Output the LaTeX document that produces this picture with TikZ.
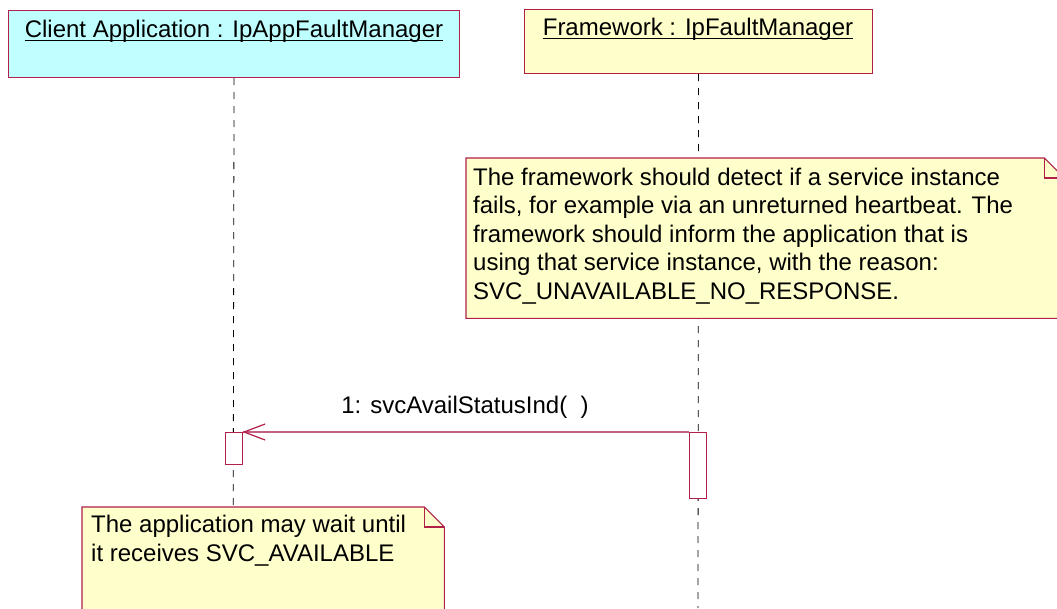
\documentclass[tikz,border=0pt]{standalone}
\usepackage{fontspec}
\setmainfont{Liberation Sans}
\usetikzlibrary{calc}
\definecolor{umlborder}{RGB}{176,32,72}
\definecolor{umlarrow}{RGB}{196,96,130}
\definecolor{cyanfill}{RGB}{192,255,255}
\definecolor{notefill}{RGB}{255,255,204}
\tikzset{
  objbox/.style={draw=umlborder, line width=1.1pt, anchor=north west, inner sep=0pt},
  objlabel/.style={anchor=base, inner sep=0pt, font=\fontsize{24}{28}\selectfont},
  lifeline/.style={draw=black, line width=0.8pt, dash pattern=on 7pt off 7pt},
  actbar/.style={draw=umlborder, fill=white, line width=1.1pt, anchor=north west, inner sep=0pt, minimum width=17pt},
  notearea/.style={anchor=north west, inner sep=0pt},
  noteshape/.style={draw=umlborder, fill=notefill, line width=1.1pt},
  notetext/.style={anchor=base west, inner sep=0pt, align=left, font=\fontsize{24}{28.5}\selectfont},
  msg/.style={draw=umlarrow, line width=1.1pt},
  msghead/.style={draw=umlborder, line width=1.2pt},
  msglabel/.style={anchor=base, inner sep=0pt, font=\fontsize{24}{28}\selectfont},
}
\begin{document}
\begin{tikzpicture}[x=1pt,y=-1pt]
\useasboundingbox (0,0) rectangle (1057,608);
\clip (0,0) rectangle (1057,608);
% object boxes
\node[objbox, fill=cyanfill, minimum width=451pt, minimum height=67pt] (box1) at (8,10) {};
\node[objbox, fill=notefill, minimum width=348pt, minimum height=64pt] (box2) at (524,9) {};
\node[objlabel] (t1) at (234,37) {Client Application : IpAppFaultManager};
\node[objlabel] (t2) at (698,35) {Framework : IpFaultManager};
\draw[line width=1pt] ([yshift=-3pt]t1.base west) -- ([yshift=-3pt]t1.base east);
\draw[line width=1pt] ([yshift=-3pt]t2.base west) -- ([yshift=-3pt]t2.base east);
% lifelines
\coordinate (end1) at (233,608);
\coordinate (end2) at (698,608);
\draw[lifeline] (box1.south) -- (end1);
\draw[lifeline] (box2.south) -- (end2);
% activation bars
\node[actbar, minimum height=32pt] (act1) at (225,432) {};
\node[actbar, minimum height=66pt] (act2) at (689,432) {};
% message
\draw[msg] (act2.north west) -- (act1.north east);
\draw[msghead] ($(act1.north east)+(22,-8)$) -- ([xshift=1pt]act1.north east) -- ($(act1.north east)+(22,8)$);
\node[msglabel] (m1) at (465,413) {1: svcAvailStatusInd(\ \ )};
% note 1
\node[notearea, minimum width=598pt, minimum height=160pt] (n1) at (466,158) {};
\coordinate (n1f) at ([xshift=-20pt]n1.north east);
\coordinate (n1g) at ([yshift=-20pt]n1.north east);
\draw[noteshape] (n1.north west) -- (n1f) -- (n1g) -- (n1.south east) -- (n1.south west) -- cycle;
\draw[draw=umlborder, line width=1.1pt] (n1f) -- (n1f |- n1g) -- (n1g);
\node[notetext] (n1t) at (473,299) {The framework should detect if a service instance\\fails, for example via an unreturned heartbeat. The\\framework should inform the application that is\\using that service instance, with the reason:\\SVC\_UNAVAILABLE\_NO\_RESPONSE.};
% note 2
\node[notearea, minimum width=362pt, minimum height=120pt] (n2) at (82,507) {};
\coordinate (n2f) at ([xshift=-20pt]n2.north east);
\coordinate (n2g) at ([yshift=-20pt]n2.north east);
\draw[noteshape] (n2.north west) -- (n2f) -- (n2g) -- (n2.south east) -- (n2.south west) -- cycle;
\draw[draw=umlborder, line width=1.1pt] (n2f) -- (n2f |- n2g) -- (n2g);
\node[notetext] (n2t) at (91,561) {The application may wait until\\it receives SVC\_AVAILABLE};
\end{tikzpicture}
\end{document}
